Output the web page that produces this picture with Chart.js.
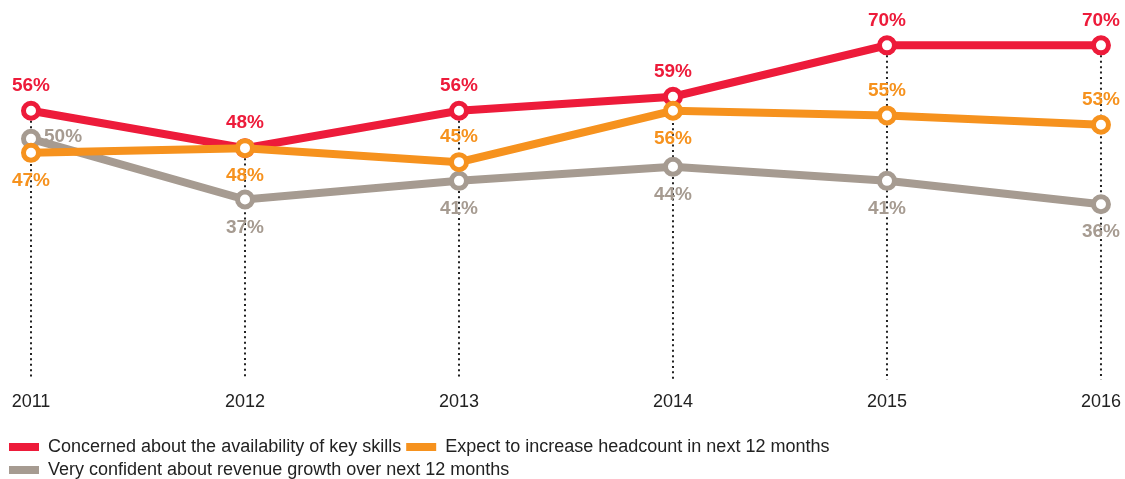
<!DOCTYPE html>
<html>
<head>
<meta charset="utf-8">
<script src="https://cdn.jsdelivr.net/npm/chart.js@4/dist/chart.umd.min.js"></script>
<style>
  html, body { margin: 0; padding: 0; background: #fff; }
  #wrap { width: 1125px; height: 479px; position: relative; }
</style>
</head>
<body>
<div id="wrap"><canvas id="myChart"></canvas></div>
<script>
const years = ["2011", "2012", "2013", "2014", "2015", "2016"];
const skills = [56, 48, 56, 59, 70, 70];
const headcount = [47, 48, 45, 56, 55, 53];
const revenue = [50, 37, 41, 44, 41, 36];

// where each value label sits relative to its point
const skillsPos = ["above", "above", "above", "above", "above", "above"];
const headcountPos = ["below", "below", "above", "below", "above", "above"];
const revenuePos = ["right", "below", "below", "below", "below", "below"];

const RED = "#ED1B3A";
const ORANGE = "#F6921E";
const GREY = "#A69B91";
const FONT = "'Liberation Sans', Arial, Helvetica, sans-serif";

function series(label, data, color, order, pos) {
  return {
    label: label,
    data: data,
    borderColor: color,
    backgroundColor: color,
    borderWidth: 8,
    pointRadius: 7.5,
    pointHoverRadius: 7.5,
    pointBorderWidth: 5,
    pointBackgroundColor: "#fff",
    pointBorderColor: color,
    tension: 0,
    order: order,
    labelPos: pos
  };
}

// dotted drop line from the highest point of each year down to the axis
const dropLines = {
  id: "dropLines",
  beforeDatasetsDraw(chart) {
    const ctx = chart.ctx;
    const y = chart.scales.y;
    const x = chart.scales.x;
    ctx.save();
    ctx.strokeStyle = "#222";
    ctx.lineWidth = 2;
    ctx.setLineDash([2, 3.4]);
    years.forEach((yr, i) => {
      const top = Math.max(skills[i], headcount[i], revenue[i]);
      const px = x.getPixelForValue(i);
      ctx.beginPath();
      ctx.moveTo(px, y.getPixelForValue(top) + 10);
      ctx.lineTo(px, chart.chartArea.bottom);
      ctx.stroke();
    });
    ctx.restore();
  }
};

// percentage labels next to each point
const valueLabels = {
  id: "valueLabels",
  afterDatasetsDraw(chart) {
    const ctx = chart.ctx;
    ctx.save();
    ctx.font = "bold 19px " + FONT;
    ctx.textBaseline = "middle";
    chart.data.datasets.forEach((ds, di) => {
      const meta = chart.getDatasetMeta(di);
      ctx.fillStyle = ds.borderColor;
      meta.data.forEach((pt, i) => {
        const pos = ds.labelPos[i];
        let tx = pt.x, ty = pt.y;
        ctx.textAlign = "center";
        if (pos === "above") ty -= 25;
        else if (pos === "below") ty += 28;
        else { tx += 13; ty -= 2; ctx.textAlign = "left"; }
        ctx.fillText(ds.data[i] + "%", tx, ty);
      });
    });
    ctx.restore();
  }
};

new Chart(document.getElementById("myChart"), {
  type: "line",
  data: {
    labels: years,
    datasets: [
      series("Concerned about the availability of key skills", skills, RED, 1, skillsPos),
      series("Expect to increase headcount in next 12 months", headcount, ORANGE, 0, headcountPos),
      series("Very confident about revenue growth over next 12 months", revenue, GREY, 2, revenuePos)
    ]
  },
  options: {
    responsive: true,
    maintainAspectRatio: false,
    animation: false,
    layout: { padding: { left: 4, right: 3, top: 22, bottom: -10 } },
    plugins: {
      tooltip: { enabled: false },
      legend: {
        position: "bottom",
        align: "start",
        labels: {
          boxWidth: 30,
          boxHeight: 8,
          padding: 5,
          color: "#222",
          font: { family: FONT, size: 18 },
          sort: (a, b) => a.datasetIndex - b.datasetIndex,
          generateLabels: (chart) => chart.data.datasets.map((ds, i) => ({
            text: ds.label,
            fillStyle: ds.borderColor,
            strokeStyle: ds.borderColor,
            lineWidth: 0,
            fontColor: "#222",
            datasetIndex: i
          }))
        }
      }
    },
    scales: {
      x: {
        offset: false,
        grid: { display: false },
        border: { display: false },
        ticks: { color: "#222", padding: 4, font: { family: FONT, size: 18 }, maxRotation: 0 },
        afterFit: (s) => { s.height += 16; }
      },
      y: {
        min: -1.5,
        max: 75,
        grid: { display: false },
        border: { display: false },
        ticks: { display: false },
        afterFit: (s) => { s.width = 27; }
      }
    }
  },
  plugins: [dropLines, valueLabels]
});
</script>
</body>
</html>
